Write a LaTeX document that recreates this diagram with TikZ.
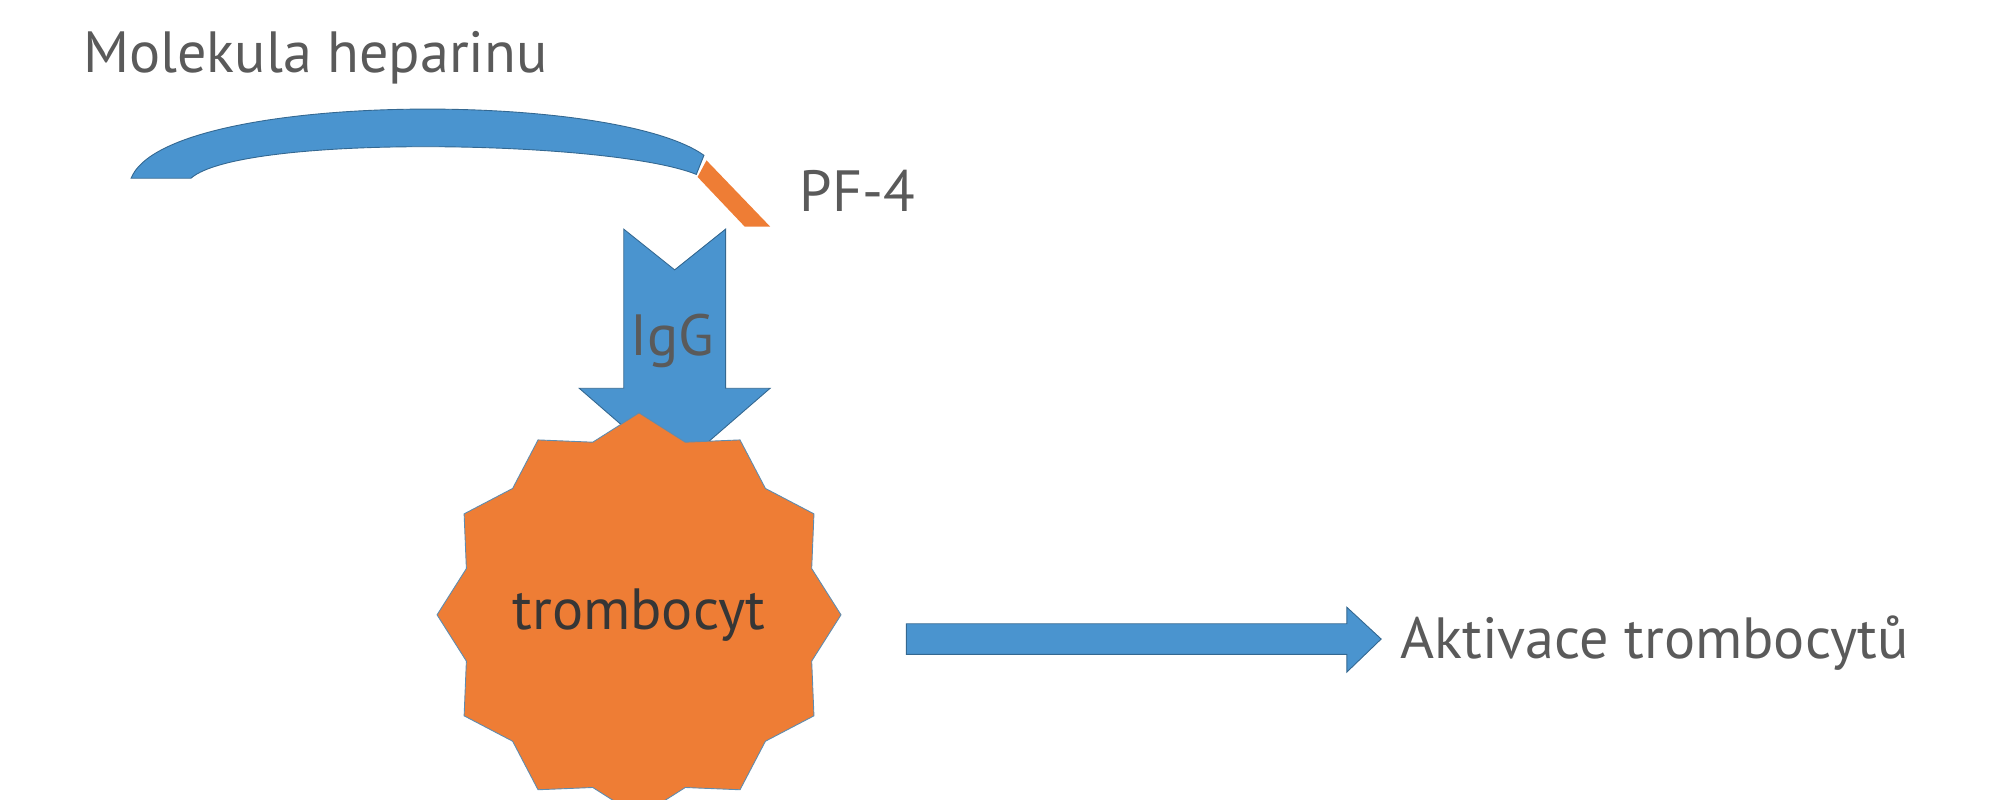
\documentclass[tikz,border=0pt]{standalone}
\usepackage{fontspec}
\setmainfont{PT Sans}
\usetikzlibrary{shapes.geometric}
\definecolor{bl}{HTML}{4A94CF}
\definecolor{or}{HTML}{EE7D35}
\definecolor{tx}{HTML}{5A5A5A}
\begin{document}
\begin{tikzpicture}[x=0.02cm,y=-0.02cm,
  lbl/.style={text=tx,font=\fontsize{26}{30}\selectfont,inner sep=0pt},
  shp/.style={draw=bl!70!black,line width=0.4pt}]
\useasboundingbox (0,0) rectangle (1568,628);
% heparin arc
\draw[shp,fill=bl] (103,140) .. controls (130,72) and (480,70) .. (553,122)
  -- (547,137) .. controls (480,110) and (190,105) .. (150,140) -- cycle;
% PF-4 piece
\fill[or] (548,139) -- (555,126) -- (605,178) -- (585,178) -- cycle;
% IgG arrow
\draw[shp,fill=bl] (490,180) -- (530,212) -- (570,180) -- (570,305) -- (605,305)
  -- (530,370) -- (455,305) -- (490,305) -- cycle;
\node[lbl] (igg) at (528,268) {IgG};
% platelet
\node[star,star points=12,star point ratio=1.13,minimum size=4.75cm,fill=or,draw=bl!60!gray,line width=0.4pt,
  font=\fontsize{26}{30}\selectfont,text=tx!60!black,inner sep=0pt] (tr) at (502,483) {trombocyt};
% right arrow
\coordinate (a0) at (712,502);
\draw[shp,fill=bl] (a0) ++(0,-12) -- (1058,490) -- (1058,477) -- (1085,502) -- (1058,528) -- (1058,514) -- (712,514) -- cycle;
\node[lbl,anchor=west] (akt) at (1100,505) {Aktivace trombocytů};
\node[lbl,anchor=west] (mol) at (65,45) {Molekula heparinu};
\node[lbl,anchor=west] (pf) at (628,150) {PF-4};
\end{tikzpicture}
\end{document}
